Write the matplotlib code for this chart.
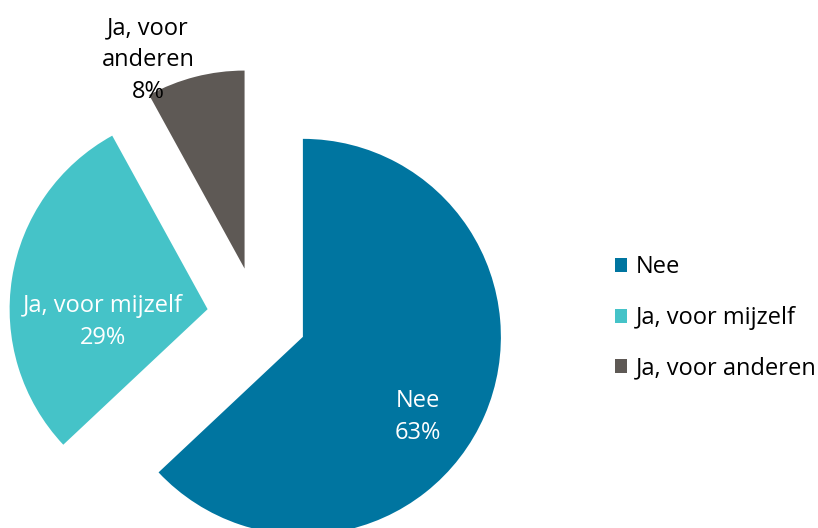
import matplotlib
matplotlib.use('Agg')
import matplotlib.pyplot as plt

# categories and shares (percent)
labels = ['Nee', 'Ja, voor mijzelf', 'Ja, voor anderen']
shares = [63, 29, 8]
colors = ['#0075a0', '#45c3c8', '#5e5955']
# text shown on / near each slice
slice_texts = ['Nee\n63%', 'Ja, voor mijzelf\n29%', 'Ja, voor\nanderen\n8%']
text_colors = ['white', 'white', 'black']

plt.rcParams['font.family'] = ['Open Sans', 'DejaVu Sans']

W, H = 818, 528
fig = plt.figure(figsize=(W / 100, H / 100), dpi=100)
ax = fig.add_axes([0, 0, 1, 1])

# pie in pixel-like units: y goes up from the bottom
center = (257, H - 317)
radius = 198
wedges, _ = ax.pie(shares, colors=colors, startangle=90, counterclock=False,
                   explode=[50, 50, 50], radius=radius, center=center,
                   wedgeprops=dict(linewidth=0))

# slice labels
label_pos = [(418, 417), (103, 322), (148, 60)]
for txt, (px, py), c in zip(slice_texts, label_pos, text_colors):
  ax.text(px, H - py, txt, ha='center', va='center', color=c,
          fontsize=17, linespacing=1.42)

ax.set_xlim(0, W)
ax.set_ylim(0, H)
ax.set_aspect('equal')
ax.axis('off')

leg = ax.legend(wedges, labels, loc='center left', bbox_to_anchor=(615 / W, 1 - 318 / H),
                frameon=False, fontsize=17, handlelength=0.52, handleheight=0.52,
                handletextpad=0.38, labelspacing=1.13, borderpad=0, borderaxespad=0)

fig.savefig('out.png', dpi=100)
